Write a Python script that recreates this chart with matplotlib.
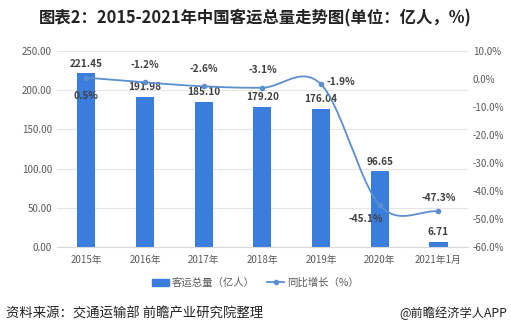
import matplotlib
matplotlib.use("Agg")
import matplotlib.pyplot as plt
import numpy as np
from matplotlib.lines import Line2D
from matplotlib.patches import Patch

plt.rcParams['font.family'] = ['Noto Sans CJK SC', 'DejaVu Sans']

# data
years = ['2015年', '2016年', '2017年', '2018年', '2019年', '2020年', '2021年1月']
passengers = [221.45, 191.98, 185.10, 179.20, 176.04, 96.65, 6.71]
growth = [0.5, -1.2, -2.6, -3.1, -1.9, -45.1, -47.3]
growth_labels = ['0.5%', '-1.2%', '-2.6%', '-3.1%', '-1.9%', '-45.1%', '-47.3%']

bar_color = '#3b7ddd'
line_color = '#5b8fd0'
txt = '#404040'


def smooth(xs, ys, n=30):
    # catmull-rom curve through the points, like excel's smoothed line
    xs = np.asarray(xs, float)
    ys = np.asarray(ys, float)
    px = np.concatenate([[2 * xs[0] - xs[1]], xs, [2 * xs[-1] - xs[-2]]])
    py = np.concatenate([[2 * ys[0] - ys[1]], ys, [2 * ys[-1] - ys[-2]]])
    ox, oy = [], []
    for i in range(1, len(px) - 2):
        t = np.linspace(0, 1, n)
        for p, o in ((px, ox), (py, oy)):
            p0, p1, p2, p3 = p[i - 1], p[i], p[i + 1], p[i + 2]
            o.extend(0.5 * (2 * p1 + (-p0 + p2) * t
                            + (2 * p0 - 5 * p1 + 4 * p2 - p3) * t ** 2
                            + (-p0 + 3 * p1 - 3 * p2 + p3) * t ** 3))
    return ox, oy


fig = plt.figure(figsize=(5.11, 3.36), dpi=100)
ax = fig.add_axes([0.1115, 0.265, 0.804, 0.583])
ax2 = ax.twinx()

x = np.arange(len(years))
bars = ax.bar(x, passengers, width=0.31, color=bar_color, zorder=2)
ax.set_ylim(0, 250)
ax.set_yticks(np.arange(0, 251, 50))
ax.set_yticklabels([f'{v:.2f}' for v in np.arange(0, 251, 50)])
ax.set_xlim(-0.5, len(years) - 0.5)
ax.set_xticks(x)
ax.set_xticklabels(years)
ax.grid(axis='y', color='#e6e6e6', linewidth=0.8, zorder=0)
ax.set_axisbelow(True)

for xi, v in zip(x, passengers):
    ax.text(xi, v + 6, f'{v:.2f}', ha='center', va='bottom', fontsize=7.2,
            color=txt, fontweight='bold')

sx, sy = smooth(x, growth)
ax2.plot(sx, sy, color=line_color, linewidth=1.3, zorder=3)
ax2.plot(x, growth, linestyle='none', marker='o', markersize=3,
         color=line_color, zorder=4)
ax2.set_ylim(-60, 10)
ax2.set_yticks(np.arange(-60, 11, 10))
ax2.set_yticklabels([f'{v:.1f}%' for v in np.arange(-60, 11, 10)])

# label offsets (points) for the growth labels
offs = [(0, -13), (0, 9), (0, 9), (0, 9), (14, 2), (-10, -10), (0, 6)]
for xi, v, lab, (dx, dy) in zip(x, growth, growth_labels, offs):
    ax2.annotate(lab, (xi, v), xytext=(dx, dy), textcoords='offset points',
                 ha='center', va='center' if dy < 0 or dx else 'bottom',
                 fontsize=7.2, color=txt, fontweight='bold')

for a in (ax, ax2):
    for s in a.spines.values():
        s.set_visible(False)
    a.tick_params(length=0, labelsize=7, labelcolor='#595959')
ax.tick_params(axis='x', pad=6)
ax.spines['bottom'].set_visible(True)
ax.spines['bottom'].set_color('#d9d9d9')

handles = [Patch(color=bar_color),
           Line2D([0], [0], color=line_color, marker='o', markersize=3, linewidth=1.3)]
fig.legend(handles, ['客运总量（亿人）', '同比增长（%）'], loc='center',
           bbox_to_anchor=(0.5, 0.158), ncol=2, frameon=False, fontsize=7.5,
           labelcolor='#595959', handlelength=1.6, columnspacing=1.2,
           handletextpad=0.3)

fig.text(0.5, 0.945, '图表2：2015-2021年中国客运总量走势图(单位：亿人，%)',
         ha='center', va='center', fontsize=11.8, fontweight='bold', color='#222222')
fig.text(0.012, 0.068, '资料来源：交通运输部 前瞻产业研究院整理', ha='left', va='center',
         fontsize=9.6, color='#222222')
fig.text(0.992, 0.068, '@前瞻经济学人APP', ha='right', va='center',
         fontsize=8.8, color='#222222')

fig.savefig('out.png', dpi=100)
